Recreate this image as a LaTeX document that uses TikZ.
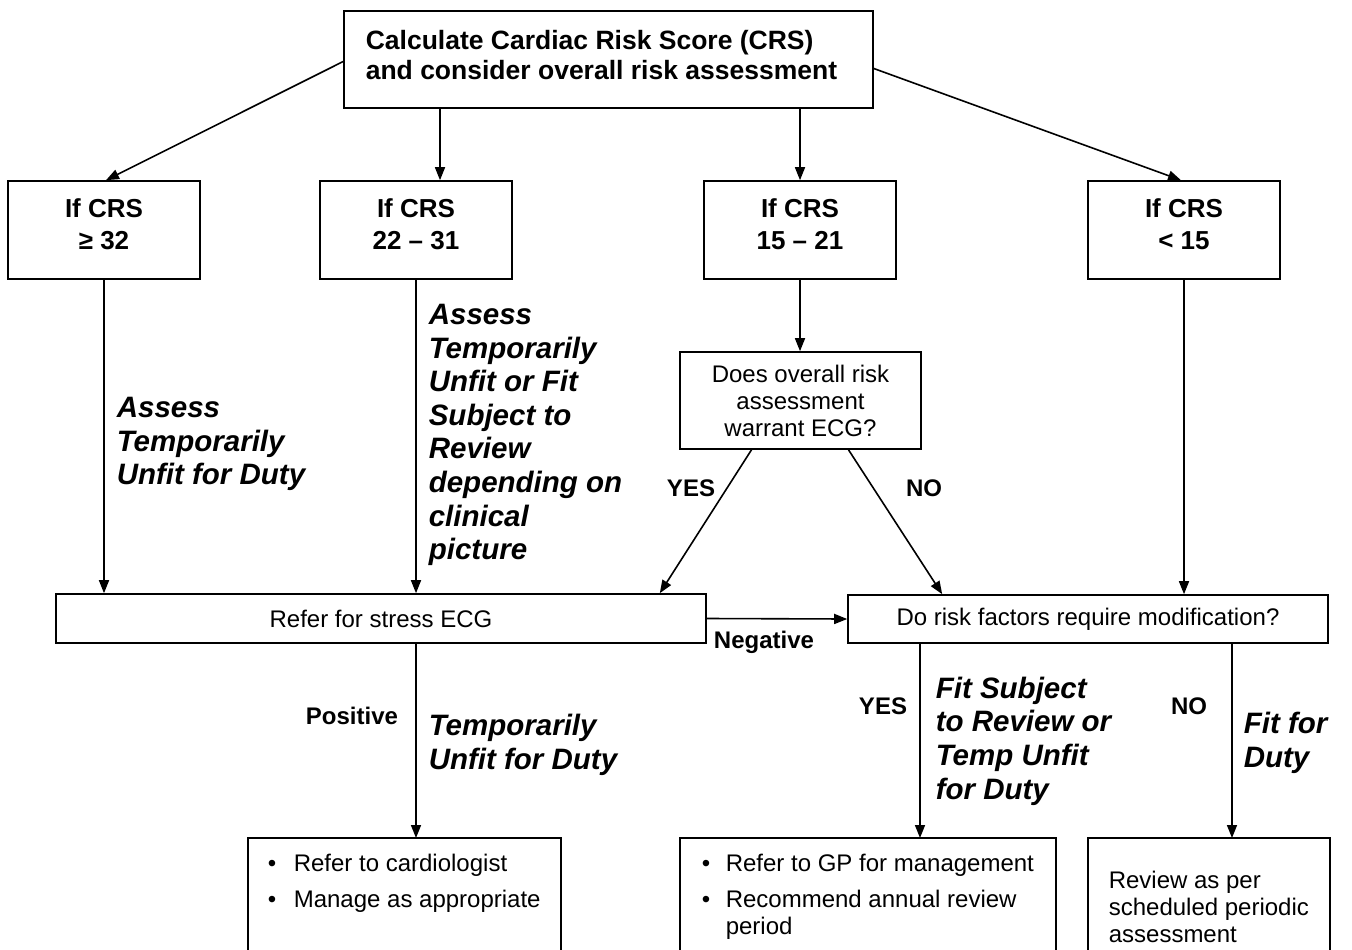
\documentclass[tikz,border=0pt]{standalone}
\usepackage{fontspec}
\setmainfont{Liberation Sans}
\usetikzlibrary{arrows.meta}
\begin{document}
\begin{tikzpicture}[x=1pt,y=-1pt,line width=1.6pt,
  box/.style={draw,rectangle,inner sep=0pt,align=center},
  txt/.style={inner sep=0pt,align=center},
  arr/.style={-{Triangle[length=13pt,width=10pt]}},
  topfont/.style={font=\fontsize{26.5}{30.5}\selectfont\bfseries},
  crsfont/.style={font=\fontsize{26}{32}\selectfont\bfseries},
  regfont/.style={font=\fontsize{24}{27}\selectfont},
  lab/.style={inner sep=0pt,font=\fontsize{24}{28}\selectfont\bfseries},
  ital/.style={inner sep=0pt,align=left,anchor=west,font=\fontsize{29.5}{33.6}\selectfont\bfseries\itshape},
  btext/.style={inner sep=0pt,align=left,anchor=north west,font=\fontsize{24}{27}\selectfont}]
\useasboundingbox (0,0) rectangle (1352,950);

% top box
\node[box,minimum width=529pt,minimum height=97pt] (top) at (608.5,59.5) {};
\node[txt,topfont,align=left,anchor=west] (toptext) at (365,55)
  {Calculate Cardiac Risk Score (CRS)\\and consider overall risk assessment};

% CRS boxes
\node[box,minimum width=192pt,minimum height=98pt] (c1) at (104,230) {};
\node[box,minimum width=192pt,minimum height=98pt] (c2) at (416,230) {};
\node[box,minimum width=192pt,minimum height=98pt] (c3) at (800,230) {};
\node[box,minimum width=192pt,minimum height=98pt] (c4) at (1184,230) {};
\node[txt,crsfont] (c1t) at (104,224) {If CRS\\≥ 32};
\node[txt,crsfont] (c2t) at (416,224) {If CRS\\22 – 31};
\node[txt,crsfont] (c3t) at (800,224) {If CRS\\15 – 21};
\node[txt,crsfont] (c4t) at (1184,224) {If CRS\\< 15};

% decision box
\node[box,regfont,minimum width=241pt,minimum height=97pt] (dec) at (800.5,400.5)
  {Does overall risk\\assessment\\warrant ECG?};

% middle boxes
\node[box,regfont,minimum width=650pt,minimum height=49pt] (refer) at (381,618.5) {Refer for stress ECG};
\node[box,regfont,minimum width=480pt,minimum height=48pt] (risk) at (1088,619) {Do risk factors require modification?};

% bottom boxes (cut off at the lower edge)
\draw (248,960) |- (561,838) -- (561,960);
\draw (680,960) |- (1056,838) -- (1056,960);
\draw (1088,960) |- (1330,838) -- (1330,960);
\coordinate (b1in) at (416,838);
\coordinate (b2in) at (920,838);
\coordinate (b3in) at (1232,838);

\node[btext] (b1t) at (267,853) {\makebox[26pt][l]{•}Refer to cardiologist\\[9pt]\makebox[26pt][l]{•}Manage as appropriate};
\node[btext] (b2t) at (701,853) {\makebox[24pt][l]{•}Refer to GP for management\\[9pt]\makebox[24pt][l]{•}Recommend annual review\\\hspace*{24pt}period};
\node[btext] (b3t) at (1108,870) {Review as per\\scheduled periodic\\assessment};

% connectors from top box
\coordinate (c2in) at ([xshift=24pt]c2.north);
\draw[arr] ([yshift=-2pt]top.west) -- ([xshift=2pt]c1.north);
\draw[arr] (top.south -| c2in) -- (c2in);
\draw[arr] (top.south -| c3.north) -- (c3.north);
\draw[arr] ([yshift=-9pt]top.east) -- ([xshift=-3pt]c4.north);

% downward connectors
\draw[arr] (c1.south) -- (c1.south |- refer.north);
\draw[arr] (c2.south) -- (c2.south |- refer.north);
\draw[arr] (c3.south) -- (c3.south |- dec.north);
\draw[arr] (c4.south) -- (c4.south |- risk.north);
\draw[arr] ([xshift=-49pt]dec.south) -- ([xshift=-47pt]refer.north east);
\draw[arr] ([xshift=48pt]dec.south) -- ([xshift=95pt]risk.north west);
\draw[arr] (refer.east) -- (risk.west);
\draw[arr] (refer.south -| b1in) -- (b1in);
\draw[arr] (risk.south -| b2in) -- (b2in);
\draw[arr] (risk.south -| b3in) -- (b3in);

% labels
\node[lab] (yes1) at (691,488) {YES};
\node[lab] (no1) at (924,488) {NO};
\node[lab] (neg) at (764,642) {Negative};
\node[lab] (pos) at (352,716) {Positive};
\node[lab] (yes2) at (883,706) {YES};
\node[lab] (no2) at (1189,706) {NO};

\node[ital] (it1) at (116,444) {Assess\\Temporarily\\Unfit for Duty};
\node[ital] (it2) at (428,435) {Assess\\Temporarily\\Unfit or Fit\\Subject to\\Review\\depending on\\clinical\\picture};
\node[ital] (it3) at (428,745) {Temporarily\\Unfit for Duty};
\node[ital] (it4) at (935,741) {Fit Subject\\to Review or\\Temp Unfit\\for Duty};
\node[ital] (it5) at (1243,743) {Fit for\\Duty};
\end{tikzpicture}
\end{document}
